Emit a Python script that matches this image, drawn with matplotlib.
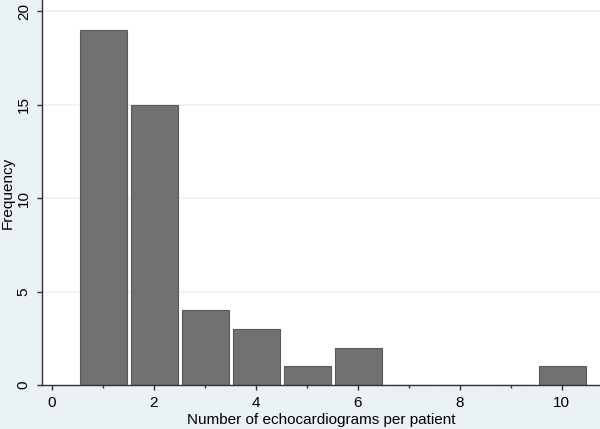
import matplotlib
matplotlib.use("Agg")
import matplotlib.pyplot as plt
from matplotlib.ticker import MultipleLocator

counts = [1, 2, 3, 4, 5, 6, 7, 8, 9, 10]
frequency = [19, 15, 4, 3, 1, 2, 0, 0, 0, 1]
xticks = [0, 2, 4, 6, 8, 10]
yticks = [0, 5, 10, 15, 20]

plt.rcParams['font.family'] = ['Liberation Sans', 'DejaVu Sans']

fig = plt.figure(figsize=(6, 4.29), dpi=100)
fig.patch.set_facecolor('#EAF2F3')
ax = fig.add_axes([42/600, 44/429, 558/600, 385/429])
ax.set_facecolor('white')

ax.set_xlim(-0.196, 10.75)
ax.set_ylim(0, 20.6)

for y in yticks[1:]:
    ax.axhline(y, color='#EAF2F3', lw=1.2, zorder=0)

ax.bar([c + 0.01 for c in counts], frequency, width=0.93, color='#717171',
       edgecolor='#5a5a5a', linewidth=0.8, zorder=2)

for s in ['top', 'right']:
    ax.spines[s].set_visible(False)
for s in ['left', 'bottom']:
    ax.spines[s].set_color('#333333')
    ax.spines[s].set_linewidth(1.0)

ax.set_xticks(xticks)
ax.xaxis.set_minor_locator(MultipleLocator(1))
ax.set_yticks(yticks)
ax.tick_params(axis='both', which='major', length=3.6, width=1, color='#333333',
               labelsize=11, labelcolor='black', pad=4.5)
ax.tick_params(axis='x', which='minor', length=2.5, width=1, color='#333333')
for lab in ax.get_yticklabels():
    lab.set_rotation(90)
    lab.set_va('center')

ax.set_xlabel('Number of echocardiograms per patient', fontsize=11, va='center')
ax.set_ylabel('Frequency', fontsize=11, va='center')
ax.yaxis.set_label_coords(-0.061, 0.5)
ax.xaxis.set_label_coords(0.5, -0.091)

fig.savefig('out.png', dpi=100, facecolor=fig.get_facecolor())
